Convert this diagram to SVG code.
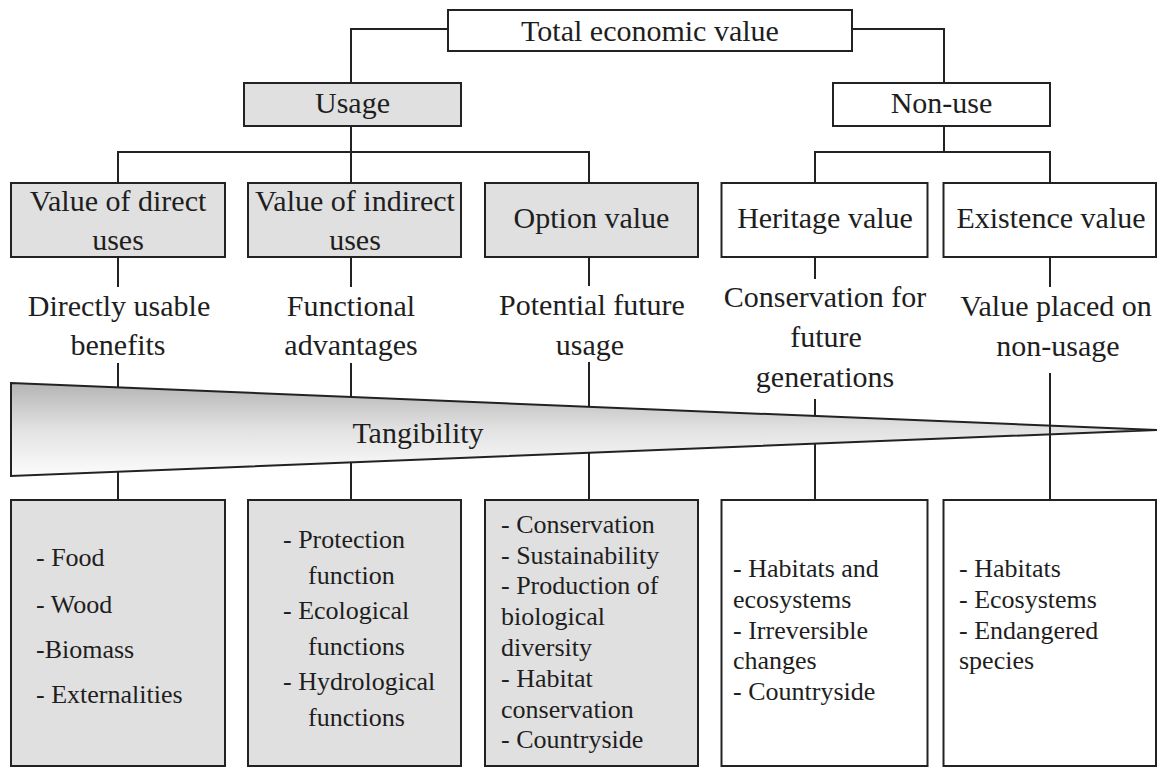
<svg xmlns="http://www.w3.org/2000/svg" width="1158" height="767" viewBox="0 0 1158 767">
<style>
.box{stroke:#222;stroke-width:2}
.conn{stroke:#222;stroke-width:2;fill:none}
</style>
<defs>
<linearGradient id="tg" x1="0" y1="0" x2="0" y2="1">
<stop offset="0" stop-color="#b4b4b4"/>
<stop offset="0.5" stop-color="#e2e2e2"/>
<stop offset="1" stop-color="#fcfcfc"/>
</linearGradient>
</defs>
<rect width="1158" height="767" fill="#fff"/>
<g id="connectors">
<path class="conn" d="M448,29 H351 V83"/>
<path class="conn" d="M852,29 H944 V83"/>
<path class="conn" d="M351,126 V152 M118,183 V152 H589 V183 M351,152 V183"/>
<path class="conn" d="M944,126 V152 M815,183 V152 H1050 V183"/>
<path class="conn" d="M118,257 V287 M351,257 V287 M589,257 V286 M815,257 V279 M1050,257 V287"/>
<path class="conn" d="M118,363 V500 M351,363 V500 M589,362 V500 M815,399 V500"/>
</g>
<g id="tangibility">
<polygon points="11,383 1157,430 11,476" fill="url(#tg)" stroke="#222" stroke-width="2"/>
<text style="font-family:'Liberation Serif',serif !important" font-size="30" text-anchor="middle" fill="#1e1e1e" x="418" y="443">Tangibility</text>
</g>
<g id="connector-col5">
<path class="conn" d="M1050,373 V500"/>
</g>
<g id="total">
<rect class="box" x="448" y="10" width="404" height="41" fill="#fff"/>
<text style="font-family:'Liberation Serif',serif !important" font-size="30" text-anchor="middle" fill="#1e1e1e" x="650" y="41">Total economic value</text>
</g>
<g id="usage">
<rect class="box" x="244" y="83" width="217" height="43" fill="#e0e0e0"/>
<text style="font-family:'Liberation Serif',serif !important" font-size="30" text-anchor="middle" fill="#1e1e1e" x="352.5" y="113">Usage</text>
</g>
<g id="nonuse">
<rect class="box" x="833" y="83" width="217" height="43" fill="#fff"/>
<text style="font-family:'Liberation Serif',serif !important" font-size="30" text-anchor="middle" fill="#1e1e1e" x="941.5" y="113">Non-use</text>
</g>
<g id="direct">
<rect class="box" x="11" y="183" width="214" height="74" fill="#e0e0e0"/>
<text style="font-family:'Liberation Serif',serif !important" font-size="30" text-anchor="middle" fill="#1e1e1e" x="118" y="211">Value of direct</text>
<text style="font-family:'Liberation Serif',serif !important" font-size="30" text-anchor="middle" fill="#1e1e1e" x="118" y="250">uses</text>
</g>
<g id="indirect">
<rect class="box" x="248" y="183" width="213" height="74" fill="#e0e0e0"/>
<text style="font-family:'Liberation Serif',serif !important" font-size="30" text-anchor="middle" fill="#1e1e1e" x="355" y="211">Value of indirect</text>
<text style="font-family:'Liberation Serif',serif !important" font-size="30" text-anchor="middle" fill="#1e1e1e" x="355" y="250">uses</text>
</g>
<g id="option">
<rect class="box" x="485" y="183" width="213" height="74" fill="#e0e0e0"/>
<text style="font-family:'Liberation Serif',serif !important" font-size="30" text-anchor="middle" fill="#1e1e1e" x="591.5" y="228">Option value</text>
</g>
<g id="heritage">
<rect class="box" x="721.5" y="183" width="206" height="74" fill="#fff"/>
<text style="font-family:'Liberation Serif',serif !important" font-size="30" text-anchor="middle" fill="#1e1e1e" x="825" y="228">Heritage value</text>
</g>
<g id="existence">
<rect class="box" x="943.5" y="183" width="212.5" height="74" fill="#fff"/>
<text style="font-family:'Liberation Serif',serif !important" font-size="30" text-anchor="middle" fill="#1e1e1e" x="1051" y="228">Existence value</text>
</g>
<g id="desc-direct">
<text style="font-family:'Liberation Serif',serif !important" font-size="30" text-anchor="middle" fill="#1e1e1e" x="119" y="316">Directly usable</text>
<text style="font-family:'Liberation Serif',serif !important" font-size="30" text-anchor="middle" fill="#1e1e1e" x="118" y="355">benefits</text>
</g>
<g id="desc-indirect">
<text style="font-family:'Liberation Serif',serif !important" font-size="30" text-anchor="middle" fill="#1e1e1e" x="351" y="316">Functional</text>
<text style="font-family:'Liberation Serif',serif !important" font-size="30" text-anchor="middle" fill="#1e1e1e" x="351" y="355">advantages</text>
</g>
<g id="desc-option">
<text style="font-family:'Liberation Serif',serif !important" font-size="30" text-anchor="middle" fill="#1e1e1e" x="592" y="315">Potential future</text>
<text style="font-family:'Liberation Serif',serif !important" font-size="30" text-anchor="middle" fill="#1e1e1e" x="590" y="355">usage</text>
</g>
<g id="desc-heritage">
<text style="font-family:'Liberation Serif',serif !important" font-size="30" text-anchor="middle" fill="#1e1e1e" x="825" y="307">Conservation for</text>
<text style="font-family:'Liberation Serif',serif !important" font-size="30" text-anchor="middle" fill="#1e1e1e" x="826" y="347">future</text>
<text style="font-family:'Liberation Serif',serif !important" font-size="30" text-anchor="middle" fill="#1e1e1e" x="825" y="387">generations</text>
</g>
<g id="desc-existence">
<text style="font-family:'Liberation Serif',serif !important" font-size="30" text-anchor="middle" fill="#1e1e1e" x="1056" y="316">Value placed on</text>
<text style="font-family:'Liberation Serif',serif !important" font-size="30" text-anchor="middle" fill="#1e1e1e" x="1058" y="356">non-usage</text>
</g>
<g id="list-direct">
<rect class="box" x="11" y="500" width="214" height="266" fill="#e0e0e0"/>
<text style="font-family:'Liberation Serif',serif !important" font-size="26" fill="#1e1e1e" x="36" y="566">- Food</text>
<text style="font-family:'Liberation Serif',serif !important" font-size="26" fill="#1e1e1e" x="36" y="613">- Wood</text>
<text style="font-family:'Liberation Serif',serif !important" font-size="26" fill="#1e1e1e" x="36" y="658">-Biomass</text>
<text style="font-family:'Liberation Serif',serif !important" font-size="26" fill="#1e1e1e" x="36" y="703">- Externalities</text>
</g>
<g id="list-indirect">
<rect class="box" x="248" y="500" width="213" height="266" fill="#e0e0e0"/>
<text style="font-family:'Liberation Serif',serif !important" font-size="26" fill="#1e1e1e" x="283" y="548">- Protection</text>
<text style="font-family:'Liberation Serif',serif !important" font-size="26" fill="#1e1e1e" x="308" y="583.5">function</text>
<text style="font-family:'Liberation Serif',serif !important" font-size="26" fill="#1e1e1e" x="283" y="619">- Ecological</text>
<text style="font-family:'Liberation Serif',serif !important" font-size="26" fill="#1e1e1e" x="308" y="654.5">functions</text>
<text style="font-family:'Liberation Serif',serif !important" font-size="26" fill="#1e1e1e" x="283" y="690">- Hydrological</text>
<text style="font-family:'Liberation Serif',serif !important" font-size="26" fill="#1e1e1e" x="308" y="725.5">functions</text>
</g>
<g id="list-option">
<rect class="box" x="485" y="500" width="213" height="266" fill="#e0e0e0"/>
<text style="font-family:'Liberation Serif',serif !important" font-size="26" fill="#1e1e1e" x="501" y="533">- Conservation</text>
<text style="font-family:'Liberation Serif',serif !important" font-size="26" fill="#1e1e1e" x="501" y="563.7">- Sustainability</text>
<text style="font-family:'Liberation Serif',serif !important" font-size="26" fill="#1e1e1e" x="501" y="594.4">- Production of</text>
<text style="font-family:'Liberation Serif',serif !important" font-size="26" fill="#1e1e1e" x="501" y="625">biological</text>
<text style="font-family:'Liberation Serif',serif !important" font-size="26" fill="#1e1e1e" x="501" y="655.8">diversity</text>
<text style="font-family:'Liberation Serif',serif !important" font-size="26" fill="#1e1e1e" x="501" y="687">- Habitat</text>
<text style="font-family:'Liberation Serif',serif !important" font-size="26" fill="#1e1e1e" x="501" y="717.5">conservation</text>
<text style="font-family:'Liberation Serif',serif !important" font-size="26" fill="#1e1e1e" x="501" y="748">- Countryside</text>
</g>
<g id="list-heritage">
<rect class="box" x="721.5" y="500" width="206" height="266" fill="#fff"/>
<text style="font-family:'Liberation Serif',serif !important" font-size="26" fill="#1e1e1e" x="733" y="577">- Habitats and</text>
<text style="font-family:'Liberation Serif',serif !important" font-size="26" fill="#1e1e1e" x="733" y="608">ecosystems</text>
<text style="font-family:'Liberation Serif',serif !important" font-size="26" fill="#1e1e1e" x="733" y="638.5">- Irreversible</text>
<text style="font-family:'Liberation Serif',serif !important" font-size="26" fill="#1e1e1e" x="733" y="669">changes</text>
<text style="font-family:'Liberation Serif',serif !important" font-size="26" fill="#1e1e1e" x="733" y="700">- Countryside</text>
</g>
<g id="list-existence">
<rect class="box" x="943.5" y="500" width="212.5" height="266" fill="#fff"/>
<text style="font-family:'Liberation Serif',serif !important" font-size="26" fill="#1e1e1e" x="959" y="577">- Habitats</text>
<text style="font-family:'Liberation Serif',serif !important" font-size="26" fill="#1e1e1e" x="959" y="608">- Ecosystems</text>
<text style="font-family:'Liberation Serif',serif !important" font-size="26" fill="#1e1e1e" x="959" y="638.5">- Endangered</text>
<text style="font-family:'Liberation Serif',serif !important" font-size="26" fill="#1e1e1e" x="959" y="669">species</text>
</g>
</svg>
